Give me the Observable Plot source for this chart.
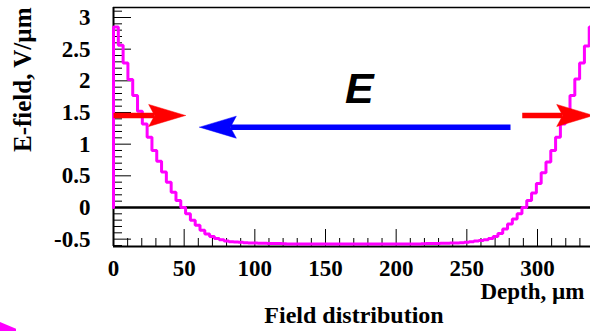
<!DOCTYPE html>
<html><head><meta charset="utf-8">
<script src="https://cdn.jsdelivr.net/npm/d3@7"></script>
<script src="https://cdn.jsdelivr.net/npm/@observablehq/plot@0.6"></script>
<style>
html,body{margin:0;padding:0;background:#fff;}
#chart{position:relative;width:590px;height:331px;overflow:hidden;}
#chart svg{display:block;}
#corner{position:absolute;left:0;top:322px;width:16px;height:9px;background:#ff00ff;clip-path:polygon(0 0,100% 75%,100% 100%,0 100%);}
</style></head><body>
<div id="chart"><div id="corner"></div></div>
<script>
// ---- data ----
const binWidth = 3.4; // µm per bin, 100 bins over the sensor depth
const fieldValues = [
  2.85, 2.56, 2.28, 2.02, 1.77, 1.52, 1.32, 1.11, 0.90, 0.73,
  0.56, 0.40, 0.24, 0.11, 0.00, -0.10, -0.20, -0.28, -0.36, -0.42,
  -0.46, -0.49, -0.51, -0.53, -0.54, -0.545, -0.55, -0.555, -0.56, -0.56,
  -0.565, -0.565, -0.57, -0.57, -0.57, -0.572, -0.575, -0.575, -0.575, -0.575,
  -0.575, -0.575, -0.575, -0.575, -0.575, -0.575, -0.575, -0.575, -0.575, -0.575,
  -0.575, -0.575, -0.575, -0.575, -0.575, -0.575, -0.575, -0.575, -0.575, -0.575,
  -0.575, -0.575, -0.575, -0.575, -0.572, -0.57, -0.57, -0.57, -0.565, -0.565,
  -0.56, -0.56, -0.555, -0.55, -0.54, -0.53, -0.52, -0.51, -0.49, -0.46,
  -0.41, -0.34, -0.26, -0.18, -0.10, 0.00, 0.11, 0.23, 0.38, 0.55,
  0.72, 0.90, 1.11, 1.32, 1.50, 1.77, 2.03, 2.28, 2.55, 2.85
];
const xMajorTicks = [0, 50, 100, 150, 200, 250, 300];
const xTickLabels = ["0", "50", "100", "150", "200", "250", "300"];
const xMinorTicks = [10, 20, 30, 40, 60, 70, 80, 90, 110, 120, 130, 140, 160, 170, 180, 190,
  210, 220, 230, 240, 260, 270, 280, 290, 310, 320, 330];
const yMajorTicks = [-0.5, 0, 0.5, 1, 1.5, 2, 2.5, 3];
const yTickLabels = ["-0.5", "0", "0.5", "1", "1.5", "2", "2.5", "3"];
const yMinorTicks = [-0.6, -0.4, -0.3, -0.2, -0.1, 0.1, 0.2, 0.3, 0.4, 0.6, 0.7, 0.8, 0.9,
  1.1, 1.2, 1.3, 1.4, 1.6, 1.7, 1.8, 1.9, 2.1, 2.2, 2.3, 2.4, 2.6, 2.7, 2.8, 2.9, 3.1];
const xDomain = [0, 337.5];
const yDomain = [-0.616, 3.158];
const xTitle = "Depth, µm";
const yTitle = "E-field, V/µm";
const caption = "Field distribution";
const fieldLabel = {text: "E", x: 174, y: 1.86};
const arrows = [
  {tail: 0, tip: 50.9, y: 1.453, color: "#ff0000"},
  {tail: 280.9, tip: 60.9, y: 1.268, color: "#0000ff"},
  {tail: 289.2, tip: 339.6, y: 1.453, color: "#ff0000"}
];
const headLength = 26, headNotch = 4.2, headHalfWidth = 0.174;

// ---- derived tables ----
const nBins = fieldValues.length;
const histPts = [{x: 0, y: 0}]
  .concat(fieldValues.map((v, i) => ({x: i * binWidth, y: v})))
  .concat([{x: nBins * binWidth, y: fieldValues[nBins - 1]}, {x: nBins * binWidth, y: 0}]);

const arrowMarks = arrows.flatMap(a => {
  const dir = Math.sign(a.tip - a.tail);
  const base = a.tip - dir * headLength;
  const notch = base + dir * headNotch;
  const head = [
    {x: a.tip, y: a.y}, {x: base, y: a.y + headHalfWidth},
    {x: notch, y: a.y}, {x: base, y: a.y - headHalfWidth}, {x: a.tip, y: a.y}
  ];
  return [
    Plot.line([{x: a.tail, y: a.y}, {x: notch, y: a.y}], {x: "x", y: "y", stroke: a.color, strokeWidth: 5.5, strokeLinecap: "butt"}),
    Plot.line(head, {x: "x", y: "y", fill: a.color, stroke: a.color, strokeWidth: 0.5})
  ];
});

const serif = "'Liberation Serif', 'Times New Roman', serif";
const chart = Plot.plot({
  width: 590, height: 331,
  marginLeft: 113, marginRight: 0, marginTop: 7, marginBottom: 85,
  x: {domain: xDomain},
  y: {domain: yDomain},
  style: {fontFamily: serif, fontWeight: "bold", fontSize: "23px", background: "#fff", color: "#000"},
  marks: [
    Plot.ruleY([0], {stroke: "#000", strokeWidth: 2.5}),
    Plot.ruleY([yDomain[0]], {stroke: "#000", strokeWidth: 2}),
    Plot.ruleY([yDomain[1]], {stroke: "#000", strokeWidth: 1.5}),
    Plot.ruleX([xDomain[0]], {stroke: "#000", strokeWidth: 2}),
    Plot.axisY({ticks: yMinorTicks, tickSize: -9, tickFormat: () => "", label: null, strokeWidth: 1}),
    Plot.axisY({ticks: yMajorTicks, tickSize: -18, tickFormat: () => "", label: null, strokeWidth: 1}),
    Plot.axisY({ticks: yMajorTicks, tickSize: 0, tickPadding: 23, label: null,
      tickFormat: d => yTickLabels[yMajorTicks.indexOf(d)]}),
    Plot.axisX({ticks: xMinorTicks, tickSize: -8, tickFormat: () => "", label: null, strokeWidth: 1}),
    Plot.axisX({ticks: xMajorTicks, tickSize: -17, tickFormat: () => "", label: null, strokeWidth: 1}),
    Plot.axisX({ticks: xMajorTicks, tickSize: 0, tickPadding: 13, label: null,
      tickFormat: d => xTickLabels[xMajorTicks.indexOf(d)]}),
    Plot.line(histPts, {x: "x", y: "y", curve: "step-after", stroke: "#ff00ff", strokeWidth: 3, strokeLinejoin: "miter"}),
    ...arrowMarks,
    Plot.text([fieldLabel], {x: "x", y: "y", text: "text", fontFamily: "'Liberation Sans', Arial, sans-serif",
      fontStyle: "italic", fontWeight: "bold", fontSize: 43, lineAnchor: "middle", fill: "#000"}),
    Plot.text([yTitle], {frameAnchor: "top-left", rotate: -90, textAnchor: "end", lineAnchor: "middle",
      dx: -90.3, dy: 0, fontSize: 25}),
    Plot.text([xTitle], {frameAnchor: "bottom-right", textAnchor: "start", lineAnchor: "middle",
      dx: -110, dy: 45, fontSize: 23}),
    Plot.text([caption], {frameAnchor: "bottom", textAnchor: "middle", lineAnchor: "middle",
      dx: 2, dy: 69.3, fontSize: 24})
  ]
});
document.getElementById("chart").prepend(chart);
</script>
</body></html>
